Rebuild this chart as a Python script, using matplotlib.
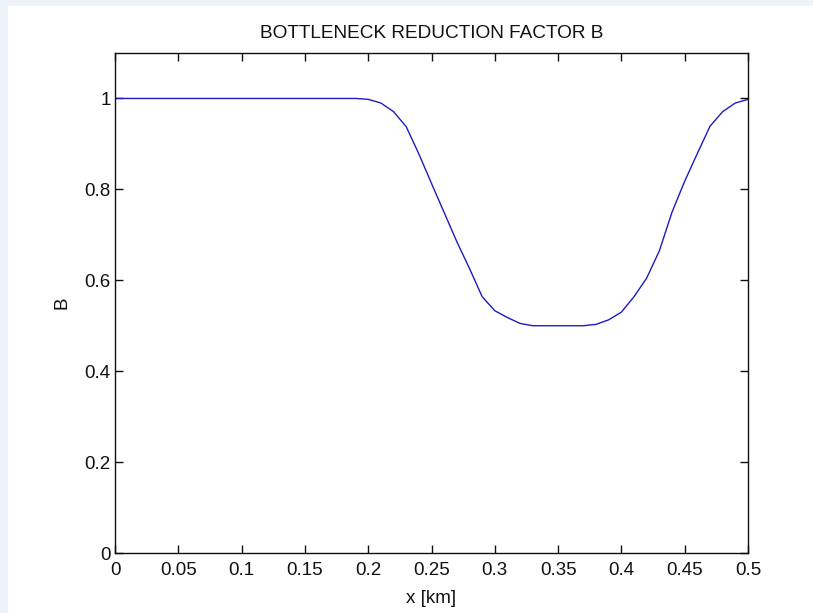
import matplotlib
matplotlib.use("Agg")
import matplotlib.pyplot as plt
from matplotlib.patches import Rectangle

plt.rcParams['font.family'] = ['Liberation Sans', 'DejaVu Sans']

x_km = [0.0, 0.19, 0.20, 0.21, 0.22, 0.23, 0.24, 0.25, 0.26, 0.27, 0.28, 0.29,
        0.30, 0.31, 0.32, 0.33, 0.34, 0.35, 0.36, 0.37, 0.38, 0.39, 0.40, 0.41,
        0.42, 0.43, 0.44, 0.45, 0.46, 0.47, 0.48, 0.49, 0.50]
B = [1.0, 1.0, 0.998, 0.990, 0.971, 0.938, 0.878, 0.813, 0.749, 0.685, 0.626, 0.564,
     0.533, 0.518, 0.505, 0.500, 0.500, 0.500, 0.500, 0.500, 0.503, 0.513, 0.530, 0.564,
     0.605, 0.665, 0.750, 0.818, 0.879, 0.939, 0.971, 0.990, 0.998]

xticks = [0, 0.05, 0.1, 0.15, 0.2, 0.25, 0.3, 0.35, 0.4, 0.45, 0.5]
xticklabels = ['0', '0.05', '0.1', '0.15', '0.2', '0.25', '0.3', '0.35', '0.4', '0.45', '0.5']
yticks = [0, 0.2, 0.4, 0.6, 0.8, 1]
yticklabels = ['0', '0.2', '0.4', '0.6', '0.8', '1']

W, H = 813, 613
fig = plt.figure(figsize=(W/100, H/100), dpi=100, facecolor='#eef3f9')
bg = Rectangle((8/W, 0), 1 - 8/W, 1 - 6/H, transform=fig.transFigure,
               facecolor='white', edgecolor='none', zorder=-10)
fig.patches.append(bg)

ax = fig.add_axes([115/W, 1 - 553/H, (748-115)/W, (553-53)/H])
ax.set_zorder(5)
ax.plot(x_km, B, color='#1c1cc0', lw=1.0)
ax.set_xlim(0, 0.5)
ax.set_ylim(0, 1.1)
ax.set_xticks(xticks)
ax.set_xticklabels(xticklabels)
ax.set_yticks(yticks)
ax.set_yticklabels(yticklabels)
ax.tick_params(direction='in', length=6, width=1, top=True, right=True,
               labelsize=13.5, pad=3, colors='#111111')
ax.tick_params(axis='x', pad=6.5)
for s in ax.spines.values():
    s.set_linewidth(1)
    s.set_color('#111111')
ax.set_xlabel('x [km]', fontsize=13.5, labelpad=8, color='#111111')
ax.set_ylabel('B', fontsize=13.5, labelpad=10.5, color='#111111')
ax.set_title('BOTTLENECK REDUCTION FACTOR B', fontsize=13.7, pad=11, color='#111111')

fig.savefig('out.png', dpi=100, facecolor=fig.get_facecolor())
